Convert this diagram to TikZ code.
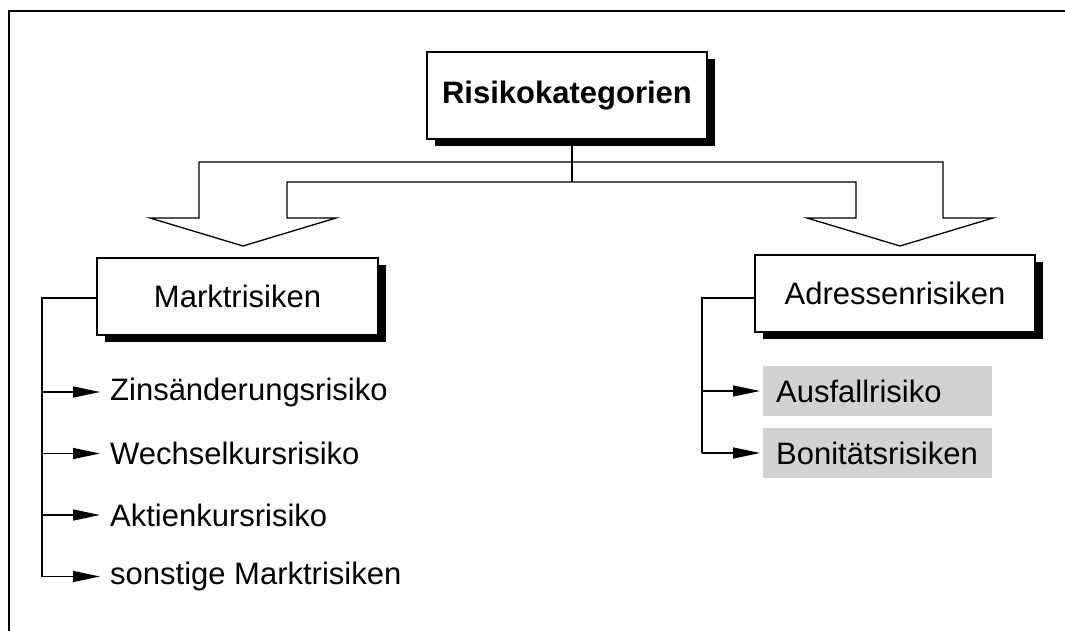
\documentclass[tikz,border=0pt]{standalone}
\usepackage{fontspec}
\setmainfont{Liberation Sans}
\usetikzlibrary{arrows.meta,shadows}
\definecolor{boxgrey}{RGB}{210,210,210}
\begin{document}
\begin{tikzpicture}[x=1pt,y=-1pt,
  catbox/.style={draw,line width=1.6pt,fill=white,
    drop shadow={shadow xshift=8pt,shadow yshift=-7pt,fill=black,opacity=1},
    minimum width=280pt,minimum height=77pt,font=\fontsize{31}{37}\selectfont},
  itemarrow/.style={line width=1.3pt,-{Triangle[length=27pt,width=11pt]}},
  itemtext/.style={anchor=west,inner xsep=10pt,inner ysep=0pt,font=\fontsize{31}{37}\selectfont},
  greybox/.style={fill=boxgrey,anchor=west,minimum height=50pt,text width=203pt,
    inner xsep=13pt,align=left,font=\fontsize{31}{37}\selectfont}]
  \useasboundingbox (0,0) rectangle (1065,631);

  % Frame
  \draw[line width=2.5pt] (1080,11) -- (9,11) -- (9,650);

  % Categories
  \node[catbox,minimum height=87pt,font=\fontsize{31}{37}\selectfont\bfseries] (risk) at (567,95.5) {Risikokategorien};
  \node[catbox,minimum width=281pt] (markt) at (237.5,296.5) {Marktrisiken};
  \node[catbox] (adr) at (895,293.5) {Adressenrisiken};

  % Block arrows
  \draw[line width=1.3pt,fill=white] (199,218) -- (199,162) -- (943,162) -- (943,218) -- (993,218)
    -- (900,246) -- (807,218) -- (856,218) -- (856,182) -- (287,182) -- (287,218) -- (336,218)
    -- (243,246) -- (150,218) -- cycle;
  \coordinate (stem) at (572,182);
  \draw[line width=1.3pt] (risk.south -| stem) -- (stem);

  % Market risks
  \foreach \name/\txt [count=\i from 0] in {m1/Zinsänderungsrisiko,m2/Wechselkursrisiko,
      m3/Aktienkursrisiko,m4/sonstige Marktrisiken} {
    \node[itemtext] (\name) at (100,392+61.5*\i) {\txt};
  }
  \coordinate (mline) at (42,298);
  \draw[line width=1.3pt] (markt.west |- mline) -- (mline) -- (mline |- m4.west);
  \foreach \name in {m1,m2,m3,m4}
    \draw[itemarrow] (mline |- \name.west) -- (\name.west);

  % Address risks
  \node[greybox] (a1) at (763,391) {Ausfallrisiko};
  \node[greybox] (a2) at (763,453) {Bonitätsrisiken};
  \coordinate (aline) at (702,298);
  \draw[line width=1.3pt] (adr.west |- aline) -- (aline) -- (aline |- a2.west);
  \foreach \name in {a1,a2}
    \draw[itemarrow,shorten >=3pt] (aline |- \name.west) -- (\name.west);
\end{tikzpicture}
\end{document}
